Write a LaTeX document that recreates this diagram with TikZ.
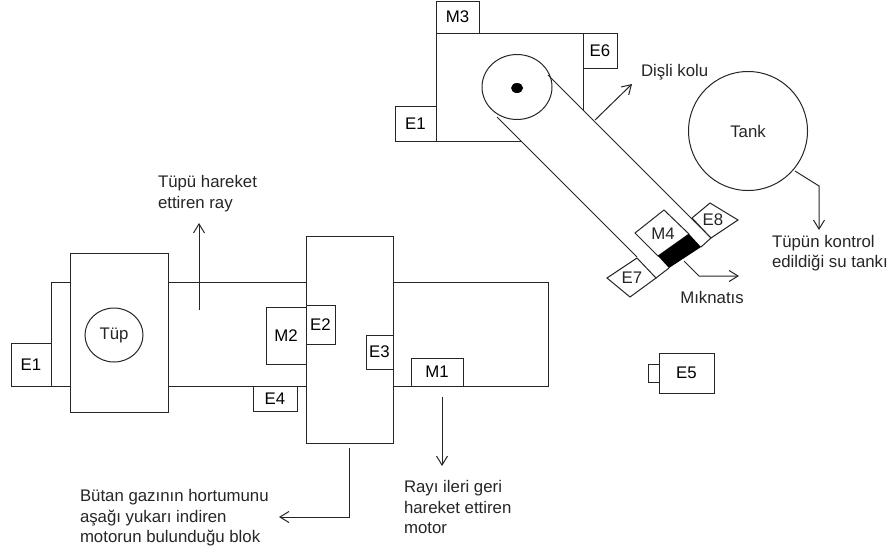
\documentclass[tikz,border=0pt]{standalone}
\usepackage{fontspec}
\setmainfont{Liberation Sans}
\usetikzlibrary{arrows.meta,shapes.geometric}
\tikzset{
  every node/.style={font=\fontsize{16.8}{20.5}\selectfont,inner sep=0pt,outer sep=0pt},
  bx/.style={draw=black!85,fill=white,line width=1pt,rectangle},
  ln/.style={draw=black!85,line width=1pt,line join=miter},
  arw/.style={ln,-{Straight Barb[length=9pt,width=11pt,line width=1pt]}},
  lbl/.style={align=left,anchor=west,text=black!85},
  txt/.style={text=black!85}
}
\begin{document}
\begin{tikzpicture}[x=1pt,y=-1pt]
\useasboundingbox[fill=white] (0,0) rectangle (890,555);

% upper mechanism
\node[bx,minimum width=147pt,minimum height=108pt] (upblock) at (509.5,87) {};
\node[bx,minimum width=43pt,minimum height=32pt] (M3) at (457.5,17) {M3};
\node[bx,minimum width=34pt,minimum height=35pt] (E6) at (600,50.5) {E6};
\node[bx,minimum width=41pt,minimum height=35pt] (E1a) at (415.5,123.5) {E1};
\fill[white] (497,117) -- (548,75) -- (711,238) -- (656,278) -- (637,258) -- cycle;
\node[draw=black!85,line width=1pt,ellipse,minimum width=70pt,minimum height=65pt] (wheel) at (517,87) {};
\fill[black] (517,88) ellipse (6pt and 5pt);
\coordinate (armAa) at (548,75);
\coordinate (armAb) at (711,238);
\coordinate (armBa) at (497,117);
\coordinate (armBb) at (637,257);
\draw[ln] (armAa) -- (armAb);
\draw[ln] (armBa) -- (armBb);

% end of arm
\draw[ln,fill=white] (607,278) -- (637,258) -- (656,278) -- (630,297) -- cycle;
\node[txt] (E7) at (632,278) {E7};
\draw[ln,fill=white] (692,218) -- (710,203) -- (738,220) -- (711,238) -- cycle;
\node[txt] (E8) at (713,220) {E8};
\draw[ln,fill=white] (635,233) -- (664,210) -- (689,234) -- (658,256) -- cycle;
\node[txt] (M4) at (663,234) {M4};
\fill[black] (689,234) -- (701,247) -- (669,268) -- (658,256) -- cycle;
\draw[ln] (656,278) -- (669,268);
\draw[ln] (701,247) -- (711,238);

% Dişli kolu
\node[lbl] (kolu) at (641,72) {Dişli kolu};
\coordinate (koluStart) at (595,120);
\coordinate (koluEnd) at (632,84);
\draw[arw] (koluStart) -- (koluEnd);

% Mıknatıs
\node[txt] (miknatis) at (712,297) {Mıknatıs};
\coordinate (mkStart) at (684,261);
\coordinate (mkBend) at (699,276);
\coordinate (mkEnd) at (739,276);
\draw[arw] (mkStart) -- (mkBend) -- (mkEnd);

% Tank
\node[draw=black!85,line width=1pt,circle,minimum size=119pt,txt] (tank) at (748,131) {Tank};
\node[lbl] (tanklbl) at (772,253) {Tüpün kontrol\\edildiği su tankı};
\coordinate (tkStart) at (795,171);
\coordinate (tkBend) at (819,186);
\coordinate (tkEnd) at (819,230);
\draw[arw] (tkStart) -- (tkBend) -- (tkEnd);

% E5
\node[bx,minimum width=11pt,minimum height=18pt] (E5s) at (653.5,373) {};
\node[bx,minimum width=55pt,minimum height=40pt] (E5) at (686.5,373) {E5};

% rail
\node[bx,minimum width=497pt,minimum height=104pt] (rail) at (299.5,334) {};
\node[bx,minimum width=98pt,minimum height=159pt] (tupblock) at (119,332.5) {};
\node[draw=black!85,line width=1pt,ellipse,minimum width=58pt,minimum height=54pt,txt] (tup) at (114,335) {Tüp};
\node[bx,minimum width=40pt,minimum height=43pt] (E1b) at (31,364.5) {E1};
\node[bx,minimum width=44pt,minimum height=25pt] (E4) at (275,398.5) {E4};
\node[bx,minimum width=40pt,minimum height=57pt] (M2) at (286,335.5) {M2};
\node[bx,minimum width=87pt,minimum height=207pt] (midblock) at (349.5,339.5) {};
\node[bx,minimum width=29pt,minimum height=39pt] (E2) at (320.5,324.5) {E2};
\node[bx,minimum width=27pt,minimum height=34pt] (E3) at (379.5,352) {E3};
\node[bx,minimum width=52pt,minimum height=28pt] (M1) at (437,372) {M1};

% rail arrow
\node[lbl] (raylbl) at (158,193.5) {Tüpü hareket\\ettiren ray};
\coordinate (rayStart) at (199,310);
\coordinate (rayEnd) at (199,223);
\draw[arw] (rayStart) -- (rayEnd);

% block arrow
\node[lbl] (bloklbl) at (80,518) {Bütan gazının hortumunu\\aşağı yukarı indiren\\motorun bulunduğu blok};
\coordinate (blokStart) at (349,448);
\coordinate (blokBend) at (349,517);
\coordinate (blokEnd) at (279,517);
\draw[arw] (blokStart) -- (blokBend) -- (blokEnd);

% motor arrow
\node[lbl] (motorlbl) at (404,507) {Rayı ileri geri\\hareket ettiren\\motor};
\coordinate (motStart) at (442,397);
\coordinate (motEnd) at (442,466);
\draw[arw] (motStart) -- (motEnd);
\end{tikzpicture}
\end{document}
